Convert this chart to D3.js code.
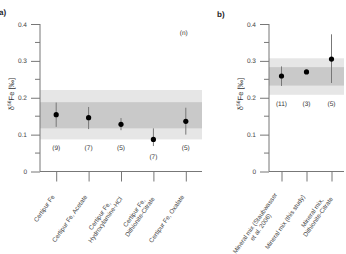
<!DOCTYPE html>
<html>
<head>
<meta charset="utf-8">
<script src="https://cdn.jsdelivr.net/npm/d3@7"></script>
<style>
  body { margin: 0; background: #fff; }
  svg { font-family: "Liberation Sans", Arial, sans-serif; text-rendering: geometricPrecision; }
</style>
</head>
<body>
<div id="chart"></div>
<script>
// panel a: Certipur Fe standards
var catsA = [["Certipur Fe"], ["Certipur Fe, Acetate"], ["Certipur Fe,", "Hydroxylamine-HCl"],
             ["Certipur Fe,", "Dithionite-Citrate"], ["Certipur Fe, Oxalate"]];
var meanA = [0.154, 0.146, 0.128, 0.087, 0.136];
var loA = [0.121, 0.115, 0.112, 0.069, 0.100];
var hiA = [0.187, 0.175, 0.145, 0.117, 0.173];
var nA = ["(9)", "(7)", "(5)", "(7)", "(5)"];
var bandA = {sd1: [0.117, 0.188], sd2: [0.087, 0.221]};

// panel b: mineral mixes
var catsB = [["Mineral mix (Staubwasser", "et al. 2006)"], ["Mineral mix (this study)"],
             ["Mineral mix,", "Dithionite-Citrate"]];
var meanB = [0.259, 0.270, 0.305];
var loB = [0.232, 0.266, 0.240];
var hiB = [0.285, 0.274, 0.372];
var nB = ["(11)", "(3)", "(5)"];
var bandB = {sd1: [0.233, 0.283], sd2: [0.208, 0.307]};

var yTicks = [0, 0.1, 0.2, 0.3, 0.4];
var yMinor = [0.05, 0.15, 0.25, 0.35];

var svg = d3.select("#chart").append("svg")
  .attr("width", 346)
  .attr("height", 254);

function drawPanel(opt) {
  var y = d3.scaleLinear().domain([0, 0.4]).range([171.5, 24]);
  var x = d3.scalePoint()
    .domain(d3.range(opt.cats.length))
    .range(opt.xr)
    .padding(0.5);

  var g = svg.append("g");

  // 2 sd and 1 sd bands
  g.append("rect")
    .attr("x", opt.xr[0]).attr("width", opt.xr[1] - opt.xr[0])
    .attr("y", y(opt.band.sd2[1])).attr("height", y(opt.band.sd2[0]) - y(opt.band.sd2[1]))
    .attr("fill", "#e6e6e6");
  g.append("rect")
    .attr("x", opt.xr[0]).attr("width", opt.xr[1] - opt.xr[0])
    .attr("y", y(opt.band.sd1[1])).attr("height", y(opt.band.sd1[0]) - y(opt.band.sd1[1]))
    .attr("fill", "#c9c9c9");

  // y axis
  var yAxis = d3.axisLeft(y).tickValues(yTicks).tickSize(9).tickPadding(4)
    .tickFormat(function(d) { return d === 0 ? "0" : d3.format(".1f")(d); });
  var ya = g.append("g").attr("transform", "translate(" + opt.xr[0] + ",0)").call(yAxis);
  ya.select(".domain").attr("d", "M0," + y(0) + "V" + y(0.4));
  ya.selectAll("line").attr("stroke", "#777");
  ya.select(".domain").attr("stroke", "#777");
  ya.selectAll("text").attr("fill", "#444").style("font-size", "6.5px");
  ya.selectAll(".minor").data(yMinor).enter().append("line")
    .attr("x1", -5).attr("x2", 0)
    .attr("y1", function(d) { return y(d); }).attr("y2", function(d) { return y(d); })
    .attr("stroke", "#777");

  // x axis
  var xAxis = d3.axisBottom(x).tickSize(10).tickFormat("");
  var xa = g.append("g").attr("transform", "translate(0," + y(0) + ")").call(xAxis);
  xa.select(".domain").attr("d", "M" + opt.xr[0] + ",0H" + opt.xr[1]).attr("stroke", "#777");
  xa.selectAll("line").attr("stroke", "#777");

  // rotated category labels
  opt.cats.forEach(function(lines, i) {
    var lg = g.append("g")
      .attr("transform", "translate(" + (x(i) - 3) + "," + (y(0) + 24) + ") rotate(-55)");
    var ts = lines.map(function(t, j) {
      return lg.append("text")
        .attr("y", (j - (lines.length - 1) / 2) * 7)
        .attr("dy", "0.35em")
        .attr("text-anchor", "middle")
        .attr("fill", "#444")
        .style("font-size", "6.3px")
        .text(t);
    });
    var w = d3.max(ts, function(t) { return t.node().getComputedTextLength(); });
    ts.forEach(function(t) { t.attr("x", -w / 2); });
  });

  // error bars
  g.selectAll(".err").data(opt.mean).enter().append("line")
    .attr("x1", function(d, i) { return x(i); })
    .attr("x2", function(d, i) { return x(i); })
    .attr("y1", function(d, i) { return y(opt.lo[i]); })
    .attr("y2", function(d, i) { return y(opt.hi[i]); })
    .attr("stroke", "#777").attr("stroke-width", 1);

  g.selectAll(".pt").data(opt.mean).enter().append("circle")
    .attr("cx", function(d, i) { return x(i); })
    .attr("cy", function(d) { return y(d); })
    .attr("r", 2.6)
    .attr("fill", "#000");

  // n labels below the band, or below the error bar if it reaches that low
  g.selectAll(".n").data(opt.n).enter().append("text")
    .attr("x", function(d, i) { return x(i); })
    .attr("y", function(d, i) {
      var v = opt.band.sd2[0] - 0.023;
      if (opt.lo[i] < v + 0.01) v = opt.lo[i] - 0.03;
      return y(v);
    })
    .attr("dy", "0.35em")
    .attr("text-anchor", "middle")
    .attr("fill", "#333")
    .style("font-size", "6.5px")
    .text(function(d) { return d; });

  // y title
  g.append("text")
    .attr("transform", "translate(" + opt.titleX + "," + y(0.21) + ") rotate(-90)")
    .attr("text-anchor", "middle")
    .attr("dy", "0.35em")
    .attr("fill", "#333")
    .style("font-size", "7.5px")
    .html("δ<tspan dy='-2.5' font-size='5px'>56</tspan><tspan dy='2.5'>Fe [‰]</tspan>");

  g.append("text")
    .attr("x", opt.letter[0]).attr("y", opt.letter[1])
    .attr("font-weight", "bold")
    .attr("fill", "#222")
    .style("font-size", "8px")
    .text(opt.name);

  return {x: x, y: y, g: g};
}

var pa = drawPanel({cats: catsA, mean: meanA, lo: loA, hi: hiA, n: nA, band: bandA,
  xr: [40, 202], titleX: 11, letter: [-1, 15], name: "a)"});
pa.g.append("text")
  .attr("x", pa.x(4) - 2).attr("y", pa.y(0.375))
  .attr("dy", "0.35em")
  .attr("text-anchor", "middle")
  .attr("fill", "#333")
  .style("font-size", "6.5px")
  .text("(n)");

drawPanel({cats: catsB, mean: meanB, lo: loB, hi: hiB, n: nB, band: bandB,
  xr: [269, 344], titleX: 240, letter: [217, 17], name: "b)"});
</script>
</body>
</html>
